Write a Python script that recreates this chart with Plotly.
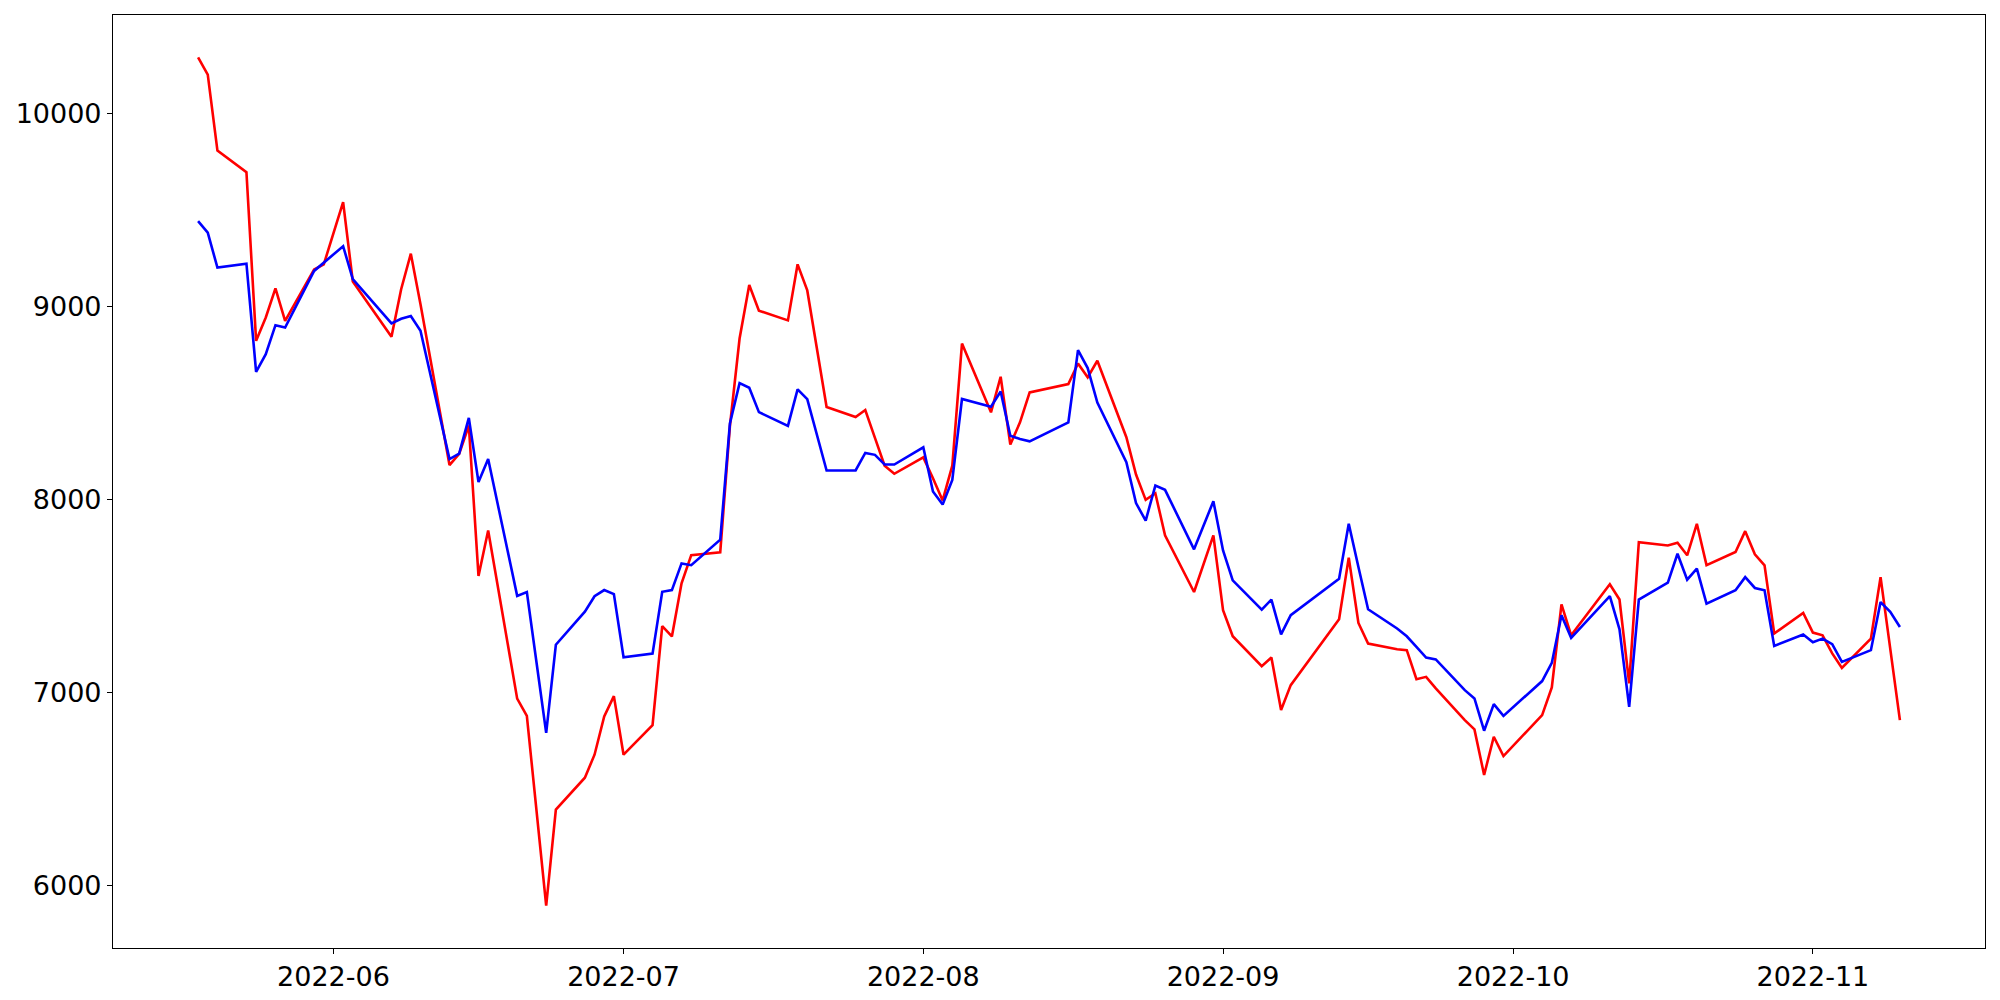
import pandas as pd
import plotly.graph_objects as go

dates = [
    "2022-05-18", "2022-05-19", "2022-05-20", "2022-05-23", "2022-05-24", "2022-05-25", "2022-05-26", "2022-05-27", "2022-05-30", "2022-05-31",
    "2022-06-02", "2022-06-03", "2022-06-07", "2022-06-08", "2022-06-09", "2022-06-10", "2022-06-13", "2022-06-14", "2022-06-15", "2022-06-16",
    "2022-06-17", "2022-06-20", "2022-06-21", "2022-06-22", "2022-06-23", "2022-06-24", "2022-06-27", "2022-06-28", "2022-06-29", "2022-06-30",
    "2022-07-01", "2022-07-04", "2022-07-05", "2022-07-06", "2022-07-07", "2022-07-08", "2022-07-11", "2022-07-12", "2022-07-13", "2022-07-14",
    "2022-07-15", "2022-07-18", "2022-07-19", "2022-07-20", "2022-07-21", "2022-07-22", "2022-07-25", "2022-07-26", "2022-07-27", "2022-07-28",
    "2022-07-29",
    "2022-08-01", "2022-08-02", "2022-08-03", "2022-08-04", "2022-08-05", "2022-08-08", "2022-08-09", "2022-08-10", "2022-08-11", "2022-08-12",
    "2022-08-16", "2022-08-17", "2022-08-18", "2022-08-19", "2022-08-22", "2022-08-23", "2022-08-24", "2022-08-25", "2022-08-26", "2022-08-29",
    "2022-08-30", "2022-08-31",
    "2022-09-01", "2022-09-02", "2022-09-05", "2022-09-06", "2022-09-07", "2022-09-08", "2022-09-13", "2022-09-14", "2022-09-15", "2022-09-16",
    "2022-09-19", "2022-09-20", "2022-09-21", "2022-09-22", "2022-09-23", "2022-09-26", "2022-09-27", "2022-09-28", "2022-09-29", "2022-09-30",
    "2022-10-04", "2022-10-05", "2022-10-06", "2022-10-07", "2022-10-11", "2022-10-12", "2022-10-13", "2022-10-14", "2022-10-17", "2022-10-18",
    "2022-10-19", "2022-10-20", "2022-10-21", "2022-10-24", "2022-10-25", "2022-10-26", "2022-10-27", "2022-10-28", "2022-10-31",
    "2022-11-01", "2022-11-02", "2022-11-03", "2022-11-04", "2022-11-07", "2022-11-08", "2022-11-09", "2022-11-10",
]

red_values = [
    10288, 10199, 9806, 9694, 8821, 8942, 9093, 8924, 9190, 9217,
    9539, 9128, 8842, 9088, 9272, 9010, 8178, 8236, 8383, 7604,
    7839, 6969, 6880, 6389, 5898, 6395, 6560, 6679, 6877, 6982,
    6679, 6832, 7344, 7291, 7566, 7712, 7727, 8380, 8833, 9110,
    8977, 8927, 9217, 9082, 8780, 8479, 8427, 8463, 8319, 8175,
    8133,
    8218, 8110, 7995, 8175, 8807, 8451, 8635, 8284, 8399, 8554,
    8597, 8704, 8632, 8718, 8322, 8129, 7998, 8032, 7814, 7521,
    7668, 7814,
    7427, 7292, 7137, 7182, 6910, 7039, 7380, 7699, 7361, 7254,
    7225, 7220, 7070, 7082, 7022, 6858, 6810, 6574, 6772, 6672,
    6884, 7027, 7457, 7297, 7561, 7482, 7048, 7779, 7762, 7776,
    7711, 7874, 7660, 7728, 7836, 7716, 7659, 7306, 7413,
    7311, 7297, 7203, 7128, 7280, 7598, 7228, 6858,
]

blue_values = [
    9441, 9381, 9200, 9220, 8661, 8752, 8902, 8890, 9183, 9225,
    9311, 9140, 8911, 8935, 8949, 8873, 8209, 8237, 8422, 8090,
    8209, 7501, 7521, 7156, 6792, 7248, 7419, 7499, 7531, 7510,
    7183, 7202, 7522, 7531, 7669, 7660, 7792, 8393, 8602, 8578,
    8452, 8381, 8570, 8519, 8335, 8150, 8150, 8241, 8231, 8181,
    8181,
    8270, 8041, 7974, 8101, 8520, 8480, 8559, 8330, 8313, 8301,
    8399, 8773, 8680, 8502, 8193, 7981, 7891, 8072, 8050, 7742,
    7866, 7991,
    7736, 7581, 7430, 7482, 7302, 7401, 7590, 7874, 7650, 7432,
    7332, 7292, 7237, 7182, 7172, 7013, 6970, 6803, 6941, 6880,
    7060, 7154, 7401, 7284, 7500, 7328, 6927, 7482, 7569, 7719,
    7585, 7642, 7461, 7530, 7598, 7542, 7530, 7242, 7301,
    7261, 7280, 7251, 7159, 7220, 7469, 7418, 7340,
]

y_ticks = [6000, 7000, 8000, 9000, 10000]

x = pd.to_datetime(dates)

# matplotlib-style 5% autoscale margins
xspan = x.max() - x.min()
xrange_ = [x.min() - 0.05 * xspan, x.max() + 0.05 * xspan]
all_y = red_values + blue_values
yspan = max(all_y) - min(all_y)
yrange_ = [min(all_y) - 0.05 * yspan, max(all_y) + 0.05 * yspan]

fig = go.Figure()
fig.add_trace(go.Scatter(x=x, y=red_values, mode="lines",
                         line=dict(color="#ff0000", width=2.6), name="red"))
fig.add_trace(go.Scatter(x=x, y=blue_values, mode="lines",
                         line=dict(color="#0000ff", width=2.6), name="blue"))

axis_common = dict(showgrid=False, zeroline=False, showline=True, linecolor="black",
                   linewidth=1.1, mirror=True, ticks="outside", ticklen=5,
                   tickwidth=1.1, tickcolor="black", automargin=False,
                   tickfont=dict(family="DejaVu Sans", size=27, color="black"))

fig.update_xaxes(type="date", range=[xrange_[0].isoformat(), xrange_[1].isoformat()],
                 tickformat="%Y-%m", dtick="M1", tick0="2022-06-01", **axis_common)
fig.update_yaxes(range=yrange_, tickvals=y_ticks, ticktext=[str(v) for v in y_ticks],
                 **axis_common)

# page body has an 8px default margin; size the figure so the plot frame lands
# at the same place as in the reference
fig.update_layout(width=1984, height=984, showlegend=False,
                  plot_bgcolor="white", paper_bgcolor="white",
                  margin=dict(l=105, r=7, t=7, b=44),
                  font=dict(family="DejaVu Sans", color="black"))

fig.write_html("out.html")
